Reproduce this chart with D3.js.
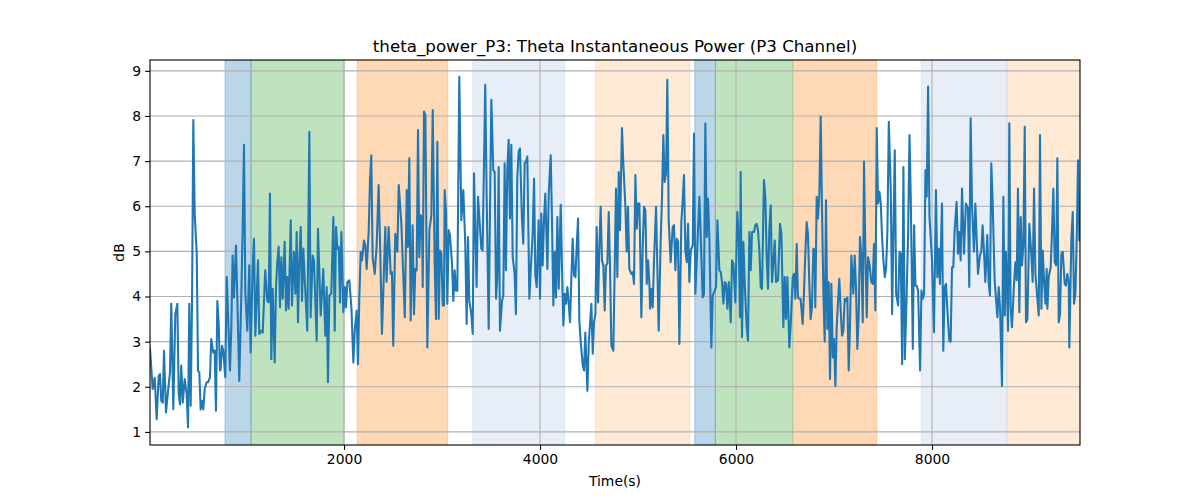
<!DOCTYPE html>
<html>
<head>
<meta charset="utf-8">
<script src="https://cdn.jsdelivr.net/npm/d3@7"></script>
<style>
  body { margin: 0; background: #fff; }
  svg { display: block; font-family: "DejaVu Sans", sans-serif; }
</style>
</head>
<body>
<svg id="chart" width="1200" height="500"></svg>
<script>
const times = [20,47,68,88,109,122,135,150,163,183,204,224,237,258,278,299,313,326,339,354,374,394,408,421,435,449,462,476,497,510,523,537,551,564,578,598,612,632,645,666,680,693,707,721,734,741,755,768,788,803,836,850,863,877,897,911,931,952,966,979,993,1013,1033,1047,1068,1081,1095,1122,1135,1156,1170,1196,1217,1231,1244,1258,1272,1292,1306,1319,1333,1347,1360,1374,1394,1408,1421,1435,1456,1469,1489,1503,1517,1530,1544,1558,1571,1585,1599,1625,1646,1659,1680,1693,1721,1734,1762,1788,1809,1823,1836,1850,1870,1891,1905,1918,1932,1946,1959,1973,1993,2008,2020,2034,2054,2075,2095,2109,2129,2142,2156,2170,2183,2204,2217,2231,2252,2265,2278,2292,2313,2333,2353,2367,2387,2400,2421,2434,2455,2476,2489,2502,2523,2544,2558,2585,2620,2640,2652,2666,2680,2700,2714,2727,2741,2755,2768,2782,2795,2803,2816,2830,2850,2871,2891,2905,2925,2938,2952,2966,2979,2993,3007,3020,3027,3041,3054,3068,3081,3102,3115,3129,3142,3156,3176,3197,3217,3237,3251,3265,3278,3299,3313,3326,3353,3367,3387,3401,3414,3441,3455,3476,3489,3503,3523,3537,3551,3564,3578,3591,3612,3625,3639,3652,3666,3680,3693,3707,3721,3741,3754,3768,3782,3795,3816,3829,3843,3857,3870,3891,3905,3925,3939,3952,3966,3986,4000,4013,4027,4041,4054,4075,4089,4109,4122,4136,4150,4163,4177,4191,4211,4224,4238,4252,4265,4279,4293,4306,4320,4333,4347,4361,4374,4388,4401,4415,4436,4449,4462,4483,4497,4510,4524,4538,4551,4565,4578,4592,4605,4619,4632,4646,4660,4673,4687,4701,4714,4728,4748,4762,4775,4789,4803,4816,4836,4850,4871,4884,4898,4911,4932,4946,4959,4973,4987,5000,5014,5034,5048,5061,5075,5089,5102,5116,5123,5136,5150,5163,5184,5197,5211,5231,5245,5258,5272,5286,5299,5313,5333,5354,5367,5381,5395,5408,5422,5442,5456,5469,5483,5497,5510,5524,5538,5558,5571,5585,5605,5626,5639,5660,5673,5687,5701,5714,5728,5748,5762,5782,5796,5810,5830,5844,5857,5871,5885,5898,5912,5926,5946,5959,5973,5993,6013,6028,6040,6047,6061,6075,6089,6109,6122,6136,6150,6163,6184,6197,6211,6224,6238,6252,6265,6285,6299,6313,6326,6340,6354,6367,6381,6395,6408,6429,6449,6463,6483,6497,6510,6524,6544,6558,6579,6591,6605,6619,6632,6646,6659,6680,6693,6707,6721,6734,6748,6761,6775,6789,6803,6809,6823,6836,6850,6864,6877,6891,6905,6918,6932,6946,6959,6973,6987,7000,7014,7027,7041,7054,7068,7082,7095,7109,7122,7136,7150,7163,7177,7197,7211,7224,7238,7252,7265,7279,7293,7306,7320,7334,7347,7361,7381,7395,7408,7422,7436,7449,7463,7477,7490,7504,7518,7531,7545,7559,7579,7593,7606,7620,7634,7654,7668,7681,7695,7708,7722,7736,7756,7770,7783,7804,7817,7831,7844,7858,7878,7892,7906,7919,7933,7946,7960,7974,8000,8020,8040,8054,8068,8081,8102,8115,8129,8142,8156,8176,8190,8204,8217,8231,8251,8265,8278,8292,8306,8326,8346,8367,8380,8394,8408,8428,8442,8469,8489,8503,8516,8530,8544,8564,8578,8591,8605,8619,8639,8653,8667,8680,8694,8714,8728,8742,8755,8776,8789,8802,8816,8836,8850,8864,8877,8891,8905,8918,8932,8946,8959,8973,8993,9014,9027,9041,9055,9075,9089,9102,9116,9130,9143,9157,9170,9177,9191,9211,9225,9238,9252,9266,9279,9293,9306,9320,9334,9354,9367,9381,9395,9401,9422,9436,9449,9463,9477,9490,9504,9510];

const powerDb = [2.85,1.95,2.2,1.28,2.24,2.28,1.69,1.65,2.8,1.43,1.91,2.32,3.84,1.5,3.61,3.84,1.84,1.61,2.47,1.65,2.17,1.84,1.1,3.84,1.58,3.9,7.91,5.84,4.95,2.36,2.32,1.5,1.69,1.5,1.95,2.1,2.1,2.21,3.06,2.76,2.8,1.47,3.9,3.39,2.36,2.4,2.91,2.8,2.21,4.43,2.36,3.32,4.91,3.98,5.13,3.98,2.13,4.06,5.54,7.36,4.06,3.24,4.69,2.76,4.65,5.28,3.13,4.8,3.17,3.24,3.2,4.58,3.9,3.87,6.28,2.61,4.17,2.54,4.21,4.76,5.1,3.76,4.87,3.95,5.21,3.69,4.43,3.73,5.69,3.8,4.99,4.06,5.43,3.43,4.8,5.54,3.9,5.06,4.36,3.24,7.65,3.54,4.91,4.8,3.02,5.5,3.58,4.61,3.13,4.21,2.1,4.02,4.06,5.76,3.24,5.54,5.06,5.1,3.87,5.43,3.65,4.21,3.76,4.32,4.36,3.76,2.54,3.24,3.69,2.5,3.98,4.99,4.8,5.24,5.13,4.61,5.47,6.58,7.13,4.87,4.5,5.13,6.47,5.24,3.17,4.06,5.54,4.32,5.54,4.5,4.54,2.91,5.39,4.99,6.47,5.61,3.54,6.36,5.1,7.06,3.47,5.58,3.61,4.61,4.58,7.69,4.87,5.8,5.76,4.21,8.1,8.02,2.87,5.47,5.8,8.13,4.73,3.5,7.43,3.5,5.02,4.95,3.8,3.8,6.36,5.87,3.84,5.47,5.36,4.73,3.9,4.58,4.13,4.13,8.87,5.69,6.36,5.17,3.39,5.32,3.9,3.61,3.17,6.73,4.21,6.21,5.54,5.06,5.02,8.69,6.28,3.28,5.84,8.36,6.8,6.76,3.95,4.43,6.87,3.24,3.9,4.02,6.95,4.58,6.8,7.47,5.73,7.36,4.87,4.5,3.61,6.65,7.21,7.28,5.69,5.17,6.95,6.99,7.1,3.95,4.58,5.39,6.61,4.47,4.21,5.69,3.95,5.84,4.69,5.73,6.28,4.61,6.28,7.13,5.69,3.8,4.99,3.98,5.76,4.17,6.03,4.65,3.36,4.06,3.84,4.21,3.84,3.43,4.43,5.28,4.47,4.43,5.1,5.73,3.47,3.0,2.47,2.36,3.2,1.91,2.95,3.39,3.84,2.73,3.43,3.61,5.54,3.87,5.06,5.99,4.8,4.69,3.69,4.69,4.73,5.87,4.69,2.91,2.8,4.65,6.39,4.43,6.76,5.47,7.73,6.95,5.99,4.99,5.99,4.61,4.5,4.54,4.28,6.69,5.5,6.06,6.06,3.54,5.1,5.99,5.91,4.28,4.8,4.28,3.73,4.17,3.76,4.8,5.99,4.65,3.24,5.24,6.21,7.58,6.54,6.73,8.8,5.69,4.76,5.54,5.58,4.58,5.28,5.21,2.95,5.65,6.13,6.69,5.02,4.76,5.61,4.32,5.02,5.13,7.61,4.06,5.1,6.21,5.39,3.98,4.06,7.84,5.32,6.17,5.32,2.87,4.02,4.13,4.21,5.69,4.58,4.54,4.32,3.84,4.32,4.28,3.73,4.32,3.43,4.8,4.73,3.87,5.87,5.24,3.54,6.76,3.1,5.21,4.28,3.32,3.02,5.43,4.58,5.43,5.43,5.58,5.61,5.47,5.02,4.21,4.17,6.58,6.21,4.87,4.17,5.5,6.02,4.32,4.76,5.24,4.32,4.36,5.61,5.39,3.32,4.43,3.5,4.43,2.87,3.39,4.43,4.5,3.95,5.17,3.98,3.95,3.95,3.39,4.06,4.95,5.65,5.39,4.28,3.5,3.76,5.06,5.02,3.76,6.21,5.73,6.24,7.99,5.99,4.13,3.0,6.13,3.28,4.32,2.17,4.28,2.65,3.06,2.02,3.32,3.9,4.39,3.69,3.13,3.24,3.95,3.9,3.98,2.36,3.36,4.91,4.06,4.91,4.21,2.84,3.61,5.32,4.87,3.43,6.99,4.95,3.54,4.87,4.73,4.32,4.28,5.17,3.69,7.73,6.06,6.32,6.06,5.32,4.8,4.43,4.61,5.47,7.87,6.36,3.61,5.47,7.24,4.06,3.8,4.99,4.95,2.5,6.87,2.61,3.61,5.39,7.58,6.21,2.84,5.58,4.24,4.24,4.13,2.36,4.13,3.95,4.06,6.8,6.21,8.65,5.76,4.8,3.21,6.36,4.43,5.06,4.28,6.06,2.8,4.21,4.28,3.73,3.02,3.0,4.65,4.65,5.47,6.1,4.95,5.43,4.8,6.39,4.95,6.06,5.95,4.21,7.95,6.02,4.99,6.06,4.5,4.91,4.99,5.58,5.02,4.32,5.36,4.32,4.02,6.95,6.06,4.36,3.95,3.54,4.21,3.76,2.02,6.21,3.58,4.99,3.24,7.84,3.76,3.32,4.24,4.76,4.36,6.39,3.65,5.76,4.69,5.13,7.76,3.43,3.5,5.61,4.91,4.32,6.39,4.5,3.95,3.58,7.58,3.73,5.02,4.36,3.84,4.61,3.73,4.43,4.65,5.47,6.39,4.76,4.69,7.06,3.43,3.61,4.95,4.99,4.28,4.24,4.5,4.32,2.87,5.28,5.87,3.84,4.06,5.32,7.02,5.24,5.24];

const spanStarts = [785, 1051, 2135, 3313, 4565, 5578, 5789, 6585, 7890, 8765];
const spanEnds   = [1051, 2000, 3058, 4252, 5530, 5789, 6578, 7436, 8762, 9510];
const spanColors = ["#1f77b4", "#2ca02c", "#ff7f0e", "#aec7e8", "#ffbb78", "#1f77b4", "#2ca02c", "#ff7f0e", "#aec7e8", "#ffbb78"];

const xTicks = [2000, 4000, 6000, 8000];
const yTicks = [1, 2, 3, 4, 5, 6, 7, 8, 9];

const titleText = "theta_power_P3: Theta Instantaneous Power (P3 Channel)";
const xLabel = "Time(s)";
const yLabel = "dB";

const margin = {left: 150, right: 120, top: 60, bottom: 55};
const W = 1200, H = 500;
const iw = W - margin.left - margin.right;
const ih = H - margin.top - margin.bottom;

const x = d3.scaleLinear().domain([times[0], times[times.length - 1]]).range([0, iw]);
const y = d3.scaleLinear().domain([0.71, 9.24]).range([ih, 0]);

const svg = d3.select("#chart");
const g = svg.append("g").attr("transform", `translate(${margin.left},${margin.top})`);

g.append("defs").append("clipPath").attr("id", "clip")
  .append("rect").attr("width", iw).attr("height", ih);

// spans
g.append("g").attr("clip-path", "url(#clip)")
  .selectAll("rect").data(spanStarts).join("rect")
  .attr("x", (d) => x(d))
  .attr("width", (d, i) => x(spanEnds[i]) - x(d))
  .attr("y", 0).attr("height", ih)
  .attr("fill", (d, i) => spanColors[i]).attr("fill-opacity", 0.3)
  .attr("stroke", (d, i) => spanColors[i]).attr("stroke-opacity", 0.3).attr("stroke-width", 1);

// grid
const grid = g.append("g");
grid.selectAll("line.gx").data(xTicks).join("line")
  .attr("x1", (d) => x(d)).attr("x2", (d) => x(d))
  .attr("y1", 0).attr("y2", ih)
  .attr("stroke", "#b0b0b0").attr("stroke-width", 1.1);
grid.selectAll("line.gy").data(yTicks).join("line")
  .attr("y1", (d) => y(d)).attr("y2", (d) => y(d))
  .attr("x1", 0).attr("x2", iw)
  .attr("stroke", "#b0b0b0").attr("stroke-width", 1.1);

// line
const line = d3.line().x((d, i) => x(times[i])).y((d) => y(d));
g.append("path").datum(powerDb)
  .attr("clip-path", "url(#clip)")
  .attr("d", line)
  .attr("fill", "none")
  .attr("stroke", "#1f77b4")
  .attr("stroke-width", 2.08)
  .attr("stroke-linejoin", "round")
  .attr("stroke-linecap", "square");

// axes
const xAxis = d3.axisBottom(x).tickValues(xTicks).tickFormat(d3.format("d")).tickSize(4.9).tickPadding(4);
const yAxis = d3.axisLeft(y).tickValues(yTicks).tickFormat(d3.format("d")).tickSize(4.9).tickPadding(4);

const gx = g.append("g").attr("transform", `translate(0,${ih})`).call(xAxis);
const gy = g.append("g").call(yAxis);
[gx, gy].forEach((ax) => {
  ax.select(".domain").remove();
  ax.selectAll(".tick line").attr("stroke", "#000").attr("stroke-width", 1.1);
  ax.selectAll(".tick text").attr("fill", "#000").attr("font-size", "13.9px")
    .attr("font-family", "DejaVu Sans, sans-serif");
});

// spines
g.append("rect").attr("x", 0).attr("y", 0).attr("width", iw).attr("height", ih)
  .attr("fill", "none").attr("stroke", "#000").attr("stroke-width", 1.1);

// title and labels
svg.append("text").attr("x", margin.left + iw / 2).attr("y", 52)
  .attr("text-anchor", "middle").attr("font-size", "16.7px").attr("fill", "#000")
  .text(titleText);
svg.append("text").attr("x", margin.left + iw / 2).attr("y", 486)
  .attr("text-anchor", "middle").attr("font-size", "13.9px").attr("fill", "#000")
  .text(xLabel);
svg.append("text").attr("transform", `translate(124,${margin.top + ih / 2}) rotate(-90)`)
  .attr("text-anchor", "middle").attr("font-size", "13.9px").attr("fill", "#000")
  .text(yLabel);
</script>
</body>
</html>
